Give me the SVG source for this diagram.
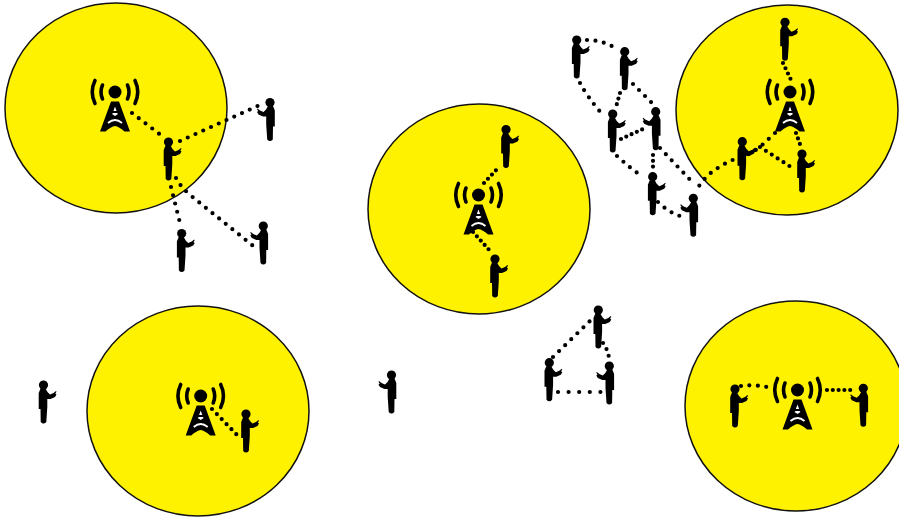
<svg xmlns="http://www.w3.org/2000/svg" xmlns:xlink="http://www.w3.org/1999/xlink" width="899" height="523" viewBox="0 0 899 523">
<style>
.cell{fill:#fff200;stroke:#111;stroke-width:1.5}
.lnk{fill:none;stroke:#000;stroke-width:4.2;stroke-linecap:round;stroke-dasharray:0 8.5}
.tight{stroke-dasharray:0 5.8}
.mid{stroke-dasharray:0 7}
.wide{stroke-dasharray:0 10.6}
.arc{fill:none;stroke:#000;stroke-width:3.6;stroke-linecap:round}
.wh{fill:none;stroke:#fff;stroke-width:1.8}
</style>
<defs>
<g id="person">
<circle cx="0" cy="0" r="4.600" fill="#000"/>
<path d="M-3 3.500H2L4 7L6.500 9.500L10 8L12.500 6L13 6.800L11.800 8.500L13 9.500L11.500 12L7 14L3.800 14V22L2.800 37Q0 40 -2.800 37L-3 24H-4.800V8Z" fill="#000"/>
</g>
<g id="tower">
<circle cx="0" cy="0" r="6.500" fill="#000"/>
<path class="arc" d="M-12.500 -7Q-15.500 0 -12.500 7M12.500 -7Q15.500 0 12.500 7M-20 -11.500Q-25.500 0 -20 11.500M20 -11.500Q25.500 0 20 11.500"/>
<path d="M-4 9.500H4L15 39.500H9.500Q4 34.500 0 34Q-4 34.500 -9.500 39.500H-15Z" fill="#000"/>
<path class="wh" d="M-7 31Q0 25 7 31"/>
<path d="M0 14.500L1.600 19H-1.600ZM-3 22L0 24L3 22L2 21H-2Z" fill="#fff"/>
</g>
</defs>
<rect width="899" height="523" fill="#fff"/>
<g id="cells">
<ellipse class="cell" cx="116" cy="108" rx="111" ry="105"/>
<ellipse class="cell" cx="479" cy="209" rx="111" ry="105"/>
<ellipse class="cell" cx="787" cy="110" rx="111" ry="105"/>
<ellipse class="cell" cx="198" cy="411" rx="111" ry="105"/>
<ellipse class="cell" cx="796" cy="406" rx="111" ry="105"/>
</g>
<g id="connectors">
<path class="lnk" d="M132 113L162 136"/>
<path class="lnk" d="M180 141L262 104"/>
<path class="lnk" d="M171 187L180 223"/>
<path class="lnk" d="M176 178Q180 186 190 195L257 249"/>
<path class="lnk tight" d="M484 183L499 167"/>
<path class="lnk tight" d="M473 232L491 252"/>
<path class="lnk mid" d="M212 409L238 436"/>
<path class="lnk" d="M741 386Q755 384 772 388"/>
<path class="lnk tight" d="M827 390L853 390"/>
<path class="lnk" d="M553 357L593 318"/>
<path class="lnk mid" d="M603 343Q608 350 609 358"/>
<path class="lnk wide" d="M558 392L601 392"/>
<path class="lnk" d="M587 40Q603 40 617 49"/>
<path class="lnk" d="M580 83Q588 98 603 115"/>
<path class="lnk tight" d="M620 93L616 107"/>
<path class="lnk" d="M633 84L653 104"/>
<path class="lnk tight" d="M621 139L643 129"/>
<path class="lnk" d="M617 156Q630 168 643 177"/>
<path class="lnk tight" d="M653 155L653 170"/>
<path class="lnk" d="M660 148L695 185"/>
<path class="lnk" d="M658 202Q668 212 680 216"/>
<path class="lnk tight" d="M783 63L792 82"/>
<path class="lnk tight" d="M796 133L801 147"/>
<path class="lnk mid" d="M760 147L794 169"/>
<path class="lnk" d="M775 133L760 147Q748 156 735 159Q720 165 707 176L695 191"/>
</g>
<g id="tower-1"><use href="#tower" x="115" y="92"/></g>
<g id="tower-2"><use href="#tower" x="478.500" y="195"/></g>
<g id="tower-3"><use href="#tower" x="790" y="92"/></g>
<g id="tower-4"><use href="#tower" x="200.700" y="396"/></g>
<g id="tower-5"><use href="#tower" x="797.500" y="390"/></g>
<g id="person-1"><use href="#person" x="168.500" y="142"/></g>
<g id="person-2"><use href="#person" transform="translate(270 102.500) scale(-1 1)"/></g>
<g id="person-3"><use href="#person" x="181.700" y="233.500"/></g>
<g id="person-4"><use href="#person" transform="translate(263.300 226) scale(-1 1)"/></g>
<g id="person-5"><use href="#person" x="506" y="129.500"/></g>
<g id="person-6"><use href="#person" x="495" y="259"/></g>
<g id="person-7"><use href="#person" x="576.700" y="40"/></g>
<g id="person-8"><use href="#person" x="624.700" y="51.700"/></g>
<g id="person-9"><use href="#person" x="612.700" y="114"/></g>
<g id="person-10"><use href="#person" transform="translate(655.700 111.700) scale(-1 1)"/></g>
<g id="person-11"><use href="#person" x="652.700" y="176.700"/></g>
<g id="person-12"><use href="#person" transform="translate(693.300 198.300) scale(-1 1)"/></g>
<g id="person-13"><use href="#person" x="785" y="22.300"/></g>
<g id="person-14"><use href="#person" x="742.300" y="141.700"/></g>
<g id="person-15"><use href="#person" x="802" y="154"/></g>
<g id="person-16"><use href="#person" x="43.500" y="385"/></g>
<g id="person-17"><use href="#person" x="246" y="414"/></g>
<g id="person-18"><use href="#person" transform="translate(391.500 375) scale(-1 1)"/></g>
<g id="person-19"><use href="#person" x="598.300" y="310"/></g>
<g id="person-20"><use href="#person" x="549.300" y="362.700"/></g>
<g id="person-21"><use href="#person" transform="translate(609.300 366) scale(-1 1)"/></g>
<g id="person-22"><use href="#person" x="735" y="389"/></g>
<g id="person-23"><use href="#person" transform="translate(863.300 388.300) scale(-1 1)"/></g>
</svg>
